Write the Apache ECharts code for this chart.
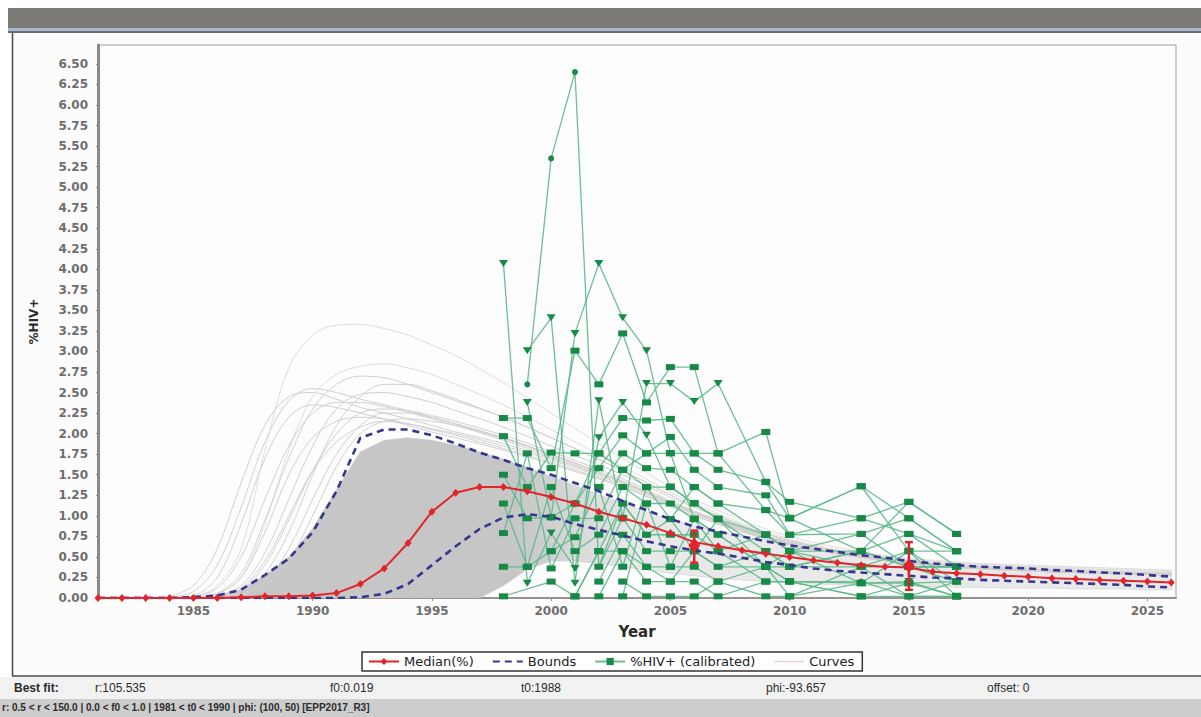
<!DOCTYPE html>
<html>
<head>
<meta charset="utf-8">
<script src="https://cdn.jsdelivr.net/npm/echarts@6/dist/echarts.min.js"></script>
<style>
html,body{margin:0;padding:0;background:#ffffff;}
#c{width:1201px;height:717px;}
</style>
</head>
<body>
<div id="c"></div>
<script>
// ---------- DATA ----------
const years = [1981,1982,1983,1984,1985,1986,1987,1988,1989,1990,1991,1992,1993,1994,1995,1996,1997,1998,1999,2000,2001,2002,2003,2004,2005,2006,2007,2008,2009,2010,2011,2012,2013,2014,2015,2016,2017,2018,2019,2020,2021,2022,2023,2024,2025,2026];

const median = [0.00,0.00,0.00,0.00,0.00,0.00,0.01,0.02,0.02,0.03,0.06,0.17,0.36,0.67,1.05,1.28,1.35,1.35,1.30,1.23,1.15,1.05,0.97,0.89,0.79,0.68,0.63,0.58,0.54,0.50,0.46,0.43,0.40,0.38,0.37,0.32,0.30,0.29,0.27,0.26,0.24,0.23,0.22,0.21,0.20,0.19];

const boundUpper = [0.00,0.00,0.00,0.00,0.01,0.03,0.10,0.28,0.48,0.80,1.30,1.95,2.05,2.05,1.98,1.88,1.77,1.68,1.58,1.50,1.40,1.30,1.18,1.07,0.96,0.87,0.81,0.75,0.69,0.64,0.60,0.56,0.52,0.49,0.45,0.42,0.40,0.38,0.37,0.36,0.34,0.33,0.31,0.30,0.28,0.26];

const boundLower = [0.00,0.00,0.00,0.00,0.00,0.00,0.00,0.00,0.00,0.00,0.00,0.01,0.05,0.17,0.40,0.63,0.84,0.98,1.02,0.99,0.90,0.83,0.76,0.69,0.63,0.58,0.54,0.49,0.44,0.40,0.36,0.33,0.31,0.29,0.27,0.25,0.24,0.22,0.21,0.20,0.19,0.18,0.17,0.16,0.14,0.13];

// dense cloud of simulated curves (envelope)
const cloudHigh = [0.00,0.00,0.00,0.00,0.01,0.03,0.10,0.28,0.50,0.85,1.32,1.78,1.92,1.95,1.92,1.86,1.78,1.69,1.59,1.48,1.37,1.26,1.15,1.05,0.96,0.88,0.81,0.75,0.70,0.65,0.61,0.57,0.54,0.51,0.48,0.46,0.44,0.42,0.41,0.40,0.39,0.38,0.37,0.36,0.35,0.34];
const cloudLow = [0.00,0.00,0.00,0.00,0.00,0.00,0.00,0.00,0.00,0.00,0.00,0.00,0.00,0.00,0.00,0.00,0.00,0.15,0.35,0.45,0.45,0.42,0.38,0.34,0.30,0.27,0.24,0.22,0.20,0.18,0.17,0.16,0.15,0.15,0.14,0.14,0.13,0.13,0.12,0.12,0.12,0.11,0.11,0.11,0.10,0.10];

// individual outlying curves (values at curveYears)
const curveYears = [1984,1985,1986,1987,1988,1989,1990,1991,1992,1993,1994,1995,1996,1998,2000,2003,2006,2010,2015,2020,2026];
const curveValues = [
  [0,0.02,0.15,0.60,1.80,2.80,3.20,3.32,3.33,3.28,3.20,3.08,2.95,2.62,2.25,1.70,1.20,0.75,0.48,0.38,0.32],
  [0,0.01,0.05,0.25,0.90,1.80,2.45,2.72,2.82,2.85,2.80,2.72,2.60,2.35,2.05,1.60,1.15,0.72,0.45,0.36,0.30],
  [0.01,0.08,0.40,1.10,1.90,2.40,2.55,2.50,2.42,2.35,2.28,2.20,2.12,1.95,1.75,1.42,1.05,0.68,0.45,0.35,0.30],
  [0,0.01,0.06,0.30,0.95,1.70,2.30,2.60,2.70,2.68,2.60,2.50,2.40,2.20,1.95,1.55,1.12,0.70,0.44,0.35,0.30],
  [0,0,0.03,0.15,0.55,1.20,1.85,2.30,2.48,2.50,2.45,2.38,2.28,2.08,1.85,1.50,1.10,0.70,0.44,0.34,0.29],
  [0,0,0.02,0.10,0.40,0.95,1.55,2.00,2.25,2.30,2.28,2.22,2.15,1.98,1.78,1.45,1.06,0.68,0.43,0.34,0.28],
  [0,0,0.01,0.05,0.20,0.60,1.20,1.75,2.10,2.25,2.25,2.20,2.12,1.95,1.75,1.42,1.04,0.66,0.42,0.33,0.28],
  [0,0,0.01,0.08,0.30,0.80,1.50,2.10,2.45,2.60,2.60,2.52,2.42,2.20,1.95,1.55,1.12,0.70,0.44,0.34,0.29],
  [0.02,0.15,0.60,1.40,2.10,2.45,2.50,2.42,2.32,2.25,2.18,2.10,2.02,1.88,1.70,1.40,1.04,0.67,0.43,0.34,0.29],
  [0,0,0.02,0.12,0.45,1.00,1.55,1.90,2.08,2.15,2.12,2.06,2.00,1.85,1.68,1.38,1.02,0.66,0.42,0.33,0.28],
  [0,0.01,0.05,0.25,0.80,1.50,1.95,2.15,2.20,2.18,2.12,2.05,1.98,1.82,1.65,1.36,1.00,0.65,0.42,0.33,0.28],
  [0,0.02,0.12,0.50,1.20,1.85,2.25,2.38,2.38,2.33,2.26,2.18,2.10,1.92,1.72,1.40,1.03,0.66,0.43,0.34,0.29],
  [0,0,0.01,0.04,0.15,0.45,1.00,1.60,2.00,2.15,2.18,2.15,2.10,1.94,1.74,1.42,1.04,0.67,0.43,0.33,0.28],
  [0,0.03,0.25,0.90,1.70,2.20,2.35,2.32,2.25,2.18,2.10,2.02,1.95,1.80,1.63,1.35,1.00,0.65,0.42,0.33,0.28]
];

// calibrated site prevalence (%HIV+) by survey year
const siteYears = [1998,1999,2000,2001,2002,2003,2004,2005,2006,2007,2009,2010,2013,2015,2017];
const siteValues = [
  [4.07,0.18,0.79,0.36,1.95,2.38,1.98,1.35,1.15,0.96,0.77,0.57,0.38,0.57,0.20],
  [null,3.01,3.41,0.18,2.40,0.97,2.61,2.61,2.39,2.61,1.41,0.97,0.57,0.38,0.38],
  [null,2.38,0.98,3.22,4.07,3.41,3.01,1.76,0.96,0.77,0.38,0.20,0.18,0.20,0.02],
  [null,2.60,5.35,6.40,0.38,1.15,0.77,0.96,0.57,0.38,0.38,0.20,0.20,0.02,0.20],
  [2.19,2.19,1.58,3.01,2.60,3.22,2.38,2.81,2.81,1.76,2.02,0.97,1.36,0.57,0.57],
  [1.97,1.35,1.77,1.76,1.76,2.19,2.16,2.18,1.76,1.56,1.41,1.17,0.97,1.17,0.78],
  [1.50,0.97,0.98,1.15,1.58,1.98,1.76,1.96,1.56,1.35,1.25,0.77,0.78,0.97,0.57],
  [1.15,0.38,0.57,0.74,1.35,1.76,1.58,1.56,1.35,1.15,0.77,0.57,0.57,0.78,0.38],
  [0.79,1.76,0.36,0.97,0.97,1.56,1.35,1.35,1.15,0.96,0.57,0.38,0.38,0.38,0.20],
  [0.38,0.38,1.35,0.57,0.77,1.35,1.15,1.15,0.96,0.77,0.38,0.57,0.18,0.18,0.02],
  [0.02,null,0.20,0.02,0.57,1.15,0.77,0.77,0.77,0.57,0.20,0.20,0.02,0.02,0.02],
  [null,null,null,null,0.38,0.97,0.57,0.57,0.57,0.38,0.57,0.38,0.57,0.38,0.38],
  [null,null,null,null,0.20,0.77,0.38,0.38,0.38,0.20,0.38,0.02,0.18,0.57,0.02],
  [null,null,null,null,0.02,0.57,0.20,0.20,0.20,0.02,0.20,0.20,0.02,0.18,0.20],
  [null,null,null,null,1.35,0.38,1.35,0.96,1.35,1.15,1.07,0.77,0.97,0.78,0.57],
  [null,null,null,null,null,0.20,0.02,0.02,0.02,0.20,0.02,0.02,0.38,0.02,0.02],
  [null,null,null,null,null,0.02,1.15,0.38,0.96,0.57,0.77,0.57,0.78,0.38,0.38],
  [null,null,null,0.02,0.57,0.57,0.38,0.20,0.57,0.96,0.38,0.38,0.57,1.17,0.78],
  [null,null,0.57,1.15,1.76,1.56,1.76,1.76,1.76,1.76,1.07,0.97,1.36,0.97,0.57]
];
const siteSymbols = ['tri','tri','tri','circle','rect','rect','rect','rect','rect','rect','rect','rect','rect','rect','rect','rect','rect','rect','rect'];

// uncertainty bars on the median
const errYears = [2006, 2015];
const errLow = [0.43, 0.10];
const errHigh = [0.82, 0.68];
const errMid = [0.64, 0.39];

// axis ticks
const xTickLabels = ['1985','1990','1995','2000','2005','2010','2015','2020','2025'];
const yTickLabels = ['0.00','0.25','0.50','0.75','1.00','1.25','1.50','1.75','2.00','2.25','2.50','2.75','3.00','3.25','3.50','3.75','4.00','4.25','4.50','4.75','5.00','5.25','5.50','5.75','6.00','6.25','6.50'];

// ---------- CHART ----------
const chart = echarts.init(document.getElementById('c'), null, {renderer: 'svg'});
const xTicks = xTickLabels.map(Number);
const yTicks = yTickLabels.map(Number);
const pairs = (xs, ys) => xs.map((x, i) => [x, ys[i]]).filter(p => p[1] !== null);

const RED = '#e0262b';
const NAVY = '#36368f';
const GREEN_MARK = '#178a47';
const GREEN_LINE = '#5cb88b';
const LABEL_FONT = 'DejaVu Sans';
const CLEAR = 'rgba(0,0,0,0)';

const series = [];

// dense cloud as a filled polygon, shaded lighter after ~2000
series.push({
  type: 'custom', name: 'cloud', silent: true, z: 1, clip: true,
  data: [[1981, 0]], encode: {x: 0, y: 1},
  renderItem: function (params, api) {
    const pts = [];
    for (let i = 0; i < years.length; i++) pts.push(api.coord([years[i], cloudHigh[i]]));
    for (let i = years.length - 1; i >= 0; i--) pts.push(api.coord([years[i], cloudLow[i]]));
    const xa = api.coord([1998.5, 0])[0], xb = api.coord([2003.5, 0])[0];
    return {
      type: 'polygon', shape: {points: pts, smooth: 0},
      style: {
        fill: new echarts.graphic.LinearGradient(xa, 0, xb, 0, [
          {offset: 0, color: '#c6c6c6'}, {offset: 1, color: '#e9e9e9'}], true),
        stroke: '#cfcfcf', lineWidth: 0.6
      }
    };
  }
});

curveValues.forEach((vals, k) => {
  series.push({
    type: 'line', name: 'Curves', silent: true, z: 1, smooth: 0.35,
    symbol: 'circle', showSymbol: false,
    data: pairs(curveYears, vals),
    lineStyle: {color: k < 2 ? '#e0dcdc' : '#d3cfcf', width: 1},
    itemStyle: {color: '#efd2d2'}
  });
});

series.push({
  type: 'line', name: 'Bounds', z: 4, silent: true,
  symbol: 'circle', showSymbol: false,
  data: pairs(years, boundUpper),
  lineStyle: {color: NAVY, width: 2.6, type: [7, 5]}, itemStyle: {color: NAVY}
});
series.push({
  type: 'line', name: 'Bounds', z: 4, silent: true,
  symbol: 'circle', showSymbol: false,
  data: pairs(years, boundLower),
  lineStyle: {color: NAVY, width: 2.6, type: [7, 5]}, itemStyle: {color: NAVY}
});

const siteOrder = [4,5,6,7,8,9,10,11,12,13,14,15,16,17,18,0,1,2,3];
siteOrder.forEach(k => {
  const s = siteSymbols[k];
  series.push({
    type: 'line', name: '%HIV+ (calibrated)', z: 3, silent: true,
    data: pairs(siteYears, siteValues[k]),
    symbol: s === 'tri' ? 'triangle' : (s === 'circle' ? 'circle' : 'rect'),
    symbolRotate: s === 'tri' ? 180 : 0,
    symbolSize: s === 'tri' ? [9, 7] : (s === 'circle' ? 6 : [9, 6]),
    lineStyle: {color: GREEN_LINE, width: 1.3, opacity: 0.9},
    itemStyle: {color: GREEN_MARK}
  });
});

series.push({
  type: 'line', name: 'Median(%)', z: 6, silent: true,
  data: pairs(years, median),
  symbol: 'diamond', symbolSize: [7, 8],
  lineStyle: {color: RED, width: 2}, itemStyle: {color: RED}
});

series.push({
  type: 'custom', name: 'err', z: 7, silent: true,
  data: errYears.map((y, i) => [y, errLow[i], errHigh[i], errMid[i]]),
  encode: {x: 0, y: [1, 2]},
  renderItem: function (params, api) {
    const x = api.value(0);
    const pl = api.coord([x, api.value(1)]);
    const ph = api.coord([x, api.value(2)]);
    const pm = api.coord([x, api.value(3)]);
    const w = 4;
    const st = {stroke: RED, lineWidth: 2.5};
    return {type: 'group', children: [
      {type: 'line', shape: {x1: pl[0], y1: pl[1], x2: ph[0], y2: ph[1]}, style: st},
      {type: 'line', shape: {x1: pl[0] - w, y1: pl[1], x2: pl[0] + w, y2: pl[1]}, style: st},
      {type: 'line', shape: {x1: ph[0] - w, y1: ph[1], x2: ph[0] + w, y2: ph[1]}, style: st},
      {type: 'polygon', shape: {points: [[pm[0], pm[1] - 7], [pm[0] + 6, pm[1]], [pm[0], pm[1] + 7], [pm[0] - 6, pm[1]]]},
       style: {fill: RED}}
    ]};
  }
});

const TXT = {fontFamily: 'Liberation Sans', fontSize: 12, fontWeight: 'bold', fill: '#2b2b2b'};
const TXTN = Object.assign({}, TXT, {fontWeight: 'normal'});

const option = {
  animation: false,
  backgroundColor: '#ffffff',
  grid: {left: 98, top: 45, width: 1078, height: 553, show: true,
         borderColor: '#a89e9e', borderWidth: 1, backgroundColor: '#fdfdfd'},
  xAxis: {
    type: 'value', min: 1981, max: 2026.2,
    name: 'Year', nameLocation: 'middle', nameGap: 26,
    nameTextStyle: {fontFamily: LABEL_FONT, fontWeight: 'bold', fontSize: 15, color: '#2b2b2b'},
    axisLine: {show: true, onZero: false, lineStyle: {color: '#9a9090', width: 2}},
    axisTick: {show: true, customValues: xTicks, length: 3, lineStyle: {color: '#9a9090'}},
    axisLabel: {customValues: xTicks, margin: 7, color: '#6e6e6e', fontFamily: LABEL_FONT,
                fontWeight: 'bold', fontSize: 12, formatter: v => String(v)},
    splitLine: {show: false}
  },
  yAxis: {
    type: 'value', min: 0, max: 6.73,
    name: '%HIV+', nameLocation: 'middle', nameGap: 58, nameRotate: 90,
    nameTextStyle: {fontFamily: LABEL_FONT, fontWeight: 'bold', fontSize: 12, color: '#2b2b2b'},
    axisLine: {show: true, lineStyle: {color: '#8f8686', width: 3}},
    axisTick: {show: true, customValues: yTicks, length: 2, lineStyle: {color: '#9a9090'}},
    axisLabel: {customValues: yTicks, margin: 10, color: '#6e6e6e', fontFamily: LABEL_FONT,
                fontWeight: 'bold', fontSize: 12, formatter: v => Number(v).toFixed(2)},
    splitLine: {show: false}
  },
  legend: {
    left: 362, top: 652, orient: 'horizontal',
    padding: [3, 8, 3, 6], itemGap: 18, itemWidth: 30, itemHeight: 9,
    borderColor: '#333333', borderWidth: 1.5, backgroundColor: '#ffffff',
    textStyle: {fontFamily: LABEL_FONT, fontSize: 13, color: '#222222'},
    data: [
      {name: 'Median(%)'},
      {name: 'Bounds', itemStyle: {color: CLEAR, borderColor: CLEAR, borderWidth: 0}},
      {name: '%HIV+ (calibrated)', itemStyle: {color: GREEN_MARK}, lineStyle: {color: GREEN_LINE}},
      {name: 'Curves', itemStyle: {color: CLEAR, borderColor: CLEAR, borderWidth: 0},
       lineStyle: {color: '#efd2d2', width: 1.5}}
    ],
    selectedMode: false
  },
  graphic: [
    {type: 'rect', z: -20, shape: {x: 8, y: 8, width: 1193, height: 20}, style: {fill: '#7a7975'}},
    {type: 'rect', z: -20, shape: {x: 8, y: 28, width: 1193, height: 3}, style: {fill: '#a8b8c8'}},
    {type: 'rect', z: -20, shape: {x: 8, y: 31, width: 1193, height: 2}, style: {fill: '#646c78'}},
    {type: 'rect', z: -20, shape: {x: 12, y: 33, width: 1189, height: 643}, style: {fill: '#fcfcfc'}},
    {type: 'line', z: -19, shape: {x1: 12.5, y1: 33, x2: 12.5, y2: 676}, style: {stroke: '#4a4a4a', lineWidth: 1.5}},
    {type: 'line', z: -19, shape: {x1: 12, y1: 676, x2: 1201, y2: 676}, style: {stroke: '#4a4a4a', lineWidth: 1.5}},
    {type: 'rect', z: -20, shape: {x: 0, y: 677, width: 1201, height: 22}, style: {fill: '#f2f2f2'}},
    {type: 'rect', z: -20, shape: {x: 0, y: 699, width: 1201, height: 18}, style: {fill: '#cdcdcd'}},
    {type: 'text', left: 14, top: 682, style: Object.assign({text: 'Best fit:'}, TXT)},
    {type: 'text', left: 95, top: 682, style: Object.assign({text: 'r:105.535'}, TXTN)},
    {type: 'text', left: 330, top: 682, style: Object.assign({text: 'f0:0.019'}, TXTN)},
    {type: 'text', left: 521, top: 682, style: Object.assign({text: 't0:1988'}, TXTN)},
    {type: 'text', left: 766, top: 682, style: Object.assign({text: 'phi:-93.657'}, TXTN)},
    {type: 'text', left: 987, top: 682, style: Object.assign({text: 'offset: 0'}, TXTN)},
    {type: 'text', left: 2, top: 702, style: Object.assign({text: 'r: 0.5 < r < 150.0 | 0.0 < f0 < 1.0 | 1981 < t0 < 1990 | phi: (100, 50) [EPP2017_R3]'}, TXT, {fontSize: 10})}
  ],
  series: series
};
chart.setOption(option);
</script>
</body>
</html>
